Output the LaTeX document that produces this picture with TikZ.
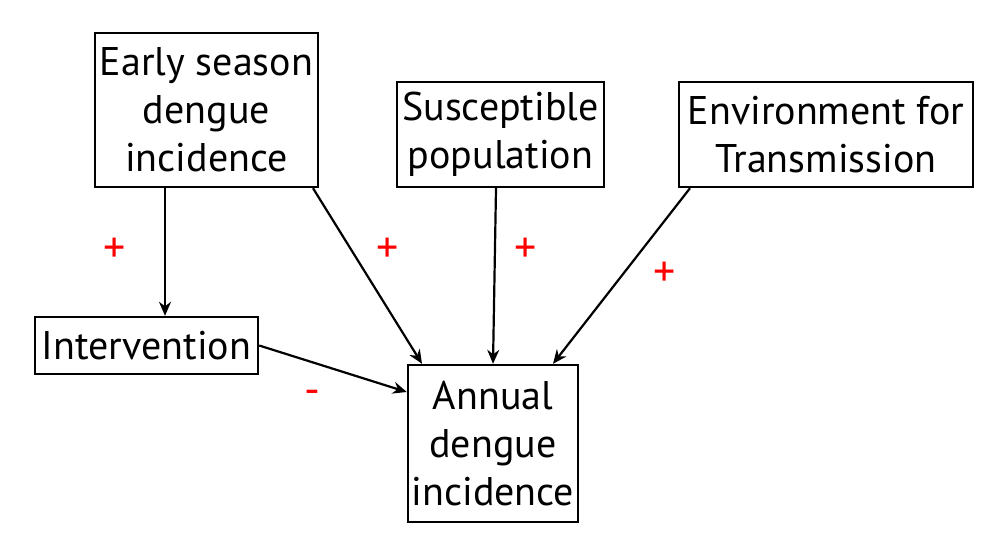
\documentclass[tikz,border=0pt]{standalone}
\usepackage{fontspec}
\setmainfont{PT Sans}
\usetikzlibrary{arrows.meta, positioning}
\definecolor{signcolor}{RGB}{255,0,0}

\tikzset{
  factor/.style={draw, line width=1.2pt, align=center, inner sep=0pt,
    font=\fontsize{20}{24}\selectfont},
  link/.style={-{Stealth[length=7pt, width=6pt]}, line width=1.1pt},
  sign/.style={text=signcolor, font=\fontsize{22}{24}\selectfont}
}

\begin{document}
\begin{tikzpicture}[x=0.5pt, y=-0.5pt]

\useasboundingbox (0,0) rectangle (1004,546);

% Boxes
\node[factor, minimum width=111.5pt, minimum height=77pt] (early) at (206.5,110) {Early season\\dengue\\incidence};
\node[factor, minimum width=103.5pt, minimum height=52.5pt] (suscep) at (500.5,134.5) {Susceptible\\population};
\node[factor, minimum width=147pt, minimum height=52.5pt] (envir) at (826,134.5) {Environment for\\Transmission};
\node[factor, minimum width=111.5pt, minimum height=28.5pt] (interv) at (146.5,345.5) {Intervention};
\node[factor, minimum width=85pt, minimum height=78.5pt] (annual) at (493,443.5) {Annual\\dengue\\incidence};

% Arrows
\draw[link] (165,0 |- early.south) -- (165,0 |- interv.north);
\draw[link] (313,0 |- early.south) -- (422,0 |- annual.north);
\draw[link] (496,0 |- suscep.south) -- (493,0 |- annual.north);
\draw[link] (690,0 |- envir.south) -- (553,0 |- annual.north);
\draw[link] (interv.east) -- (annual.west |- 0,392);

% Signs
\node[sign] (s1) at (115,250) {+};
\node[sign] (s2) at (388,250) {+};
\node[sign] (s3) at (526,250) {+};
\node[sign] (s4) at (665,274) {+};
\node[sign] (s5) at (312,397) {-};

\end{tikzpicture}
\end{document}
